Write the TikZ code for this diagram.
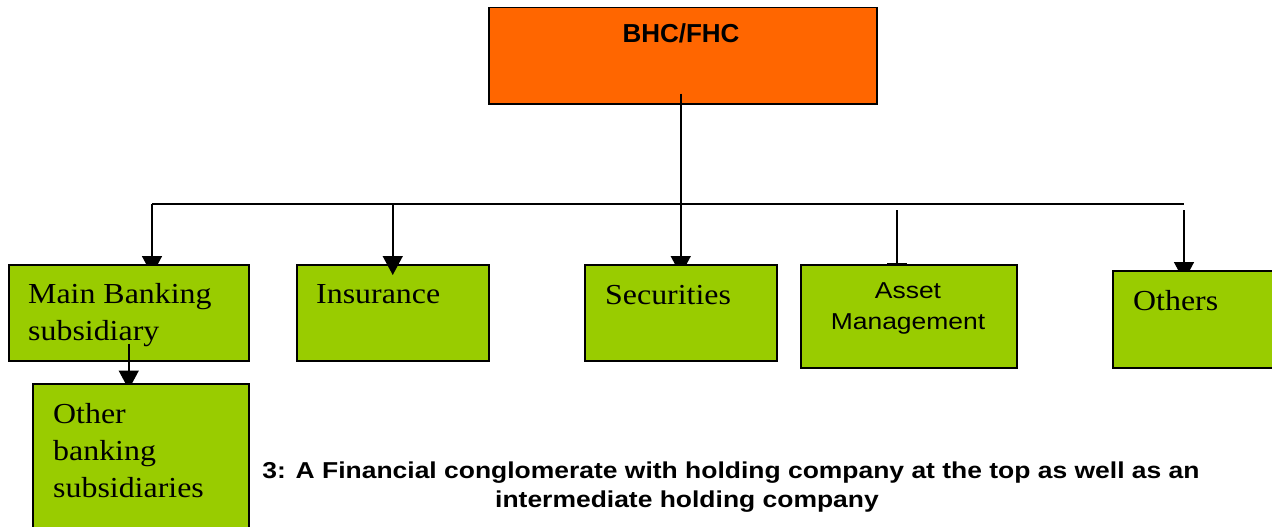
\documentclass[tikz,border=0pt]{standalone}
\usepackage{fontspec}
\setmainfont{Liberation Serif}[FakeStretch=1.1]
\newfontfamily\arialfont{Liberation Sans}[FakeStretch=1.15]
\newfontfamily\headfont{Liberation Sans}
\usetikzlibrary{arrows.meta}
\definecolor{leafgreen}{HTML}{99CC00}
\definecolor{hcorange}{HTML}{FF6600}
\pgfdeclarelayer{base}
\pgfdeclarelayer{links}
\pgfdeclarelayer{front}
\pgfsetlayers{base,links,main,front}

\begin{document}
\begin{tikzpicture}
	[
	x = 1pt, y = -1pt,
	box/.style = {draw, line width=1.5pt, fill=leafgreen, anchor=north west, inner sep=0pt},
	txt/.style = {anchor=north west, inner sep=0pt, align=left, font=\fontsize{29}{37}\selectfont},
	capt/.style = {anchor=base, inner sep=0pt, font=\arialfont\bfseries\fontsize{23}{29}\selectfont},
	wire/.style = {line width=1.5pt},
	link/.style = {wire, -{Triangle[width=20pt, length=19pt]}}
	]
	
	\useasboundingbox (0,0) rectangle (1272,527);
	
	\begin{pgfonlayer}{base}
		\node [box, fill=hcorange, minimum width=388pt, minimum height=96pt] (bhc) at (488,7) {};
	\end{pgfonlayer}
	\node [anchor=base, inner sep=0pt, font=\headfont\bfseries\fontsize{26}{30}\selectfont] (bhctxt) at (681,43) {BHC/FHC};
	
	\node [box, minimum width=240pt, minimum height=96pt] (mainbank) at (8,264) {};
	\node [box, minimum width=192pt, minimum height=96pt] (insurance) at (296,264) {};
	\node [box, minimum width=192pt, minimum height=96pt] (securities) at (584,264) {};
	\node [box, minimum width=216pt, minimum height=103pt] (assetmgmt) at (800,264) {};
	\node [box, minimum width=170pt, minimum height=97pt] (others) at (1112,270) {};
	
	\node [txt] (mainbanktxt) at (28,283) {Main Banking\\subsidiary};
	\node [txt] (insurancetxt) at (316,284) {Insurance};
	\node [txt] (securitiestxt) at (605,285) {Securities};
	\node [txt] (otherstxt) at (1133,290) {Others};
	\node [txt, anchor=north, align=center, font=\arialfont\fontsize{23}{31}\selectfont] (assetmgmttxt) at (908,282) {Asset\\Management};
	
	\begin{pgfonlayer}{front}
		\node [box, minimum width=216pt, minimum height=150pt] (otherbank) at (32,383) {};
		\node [txt] (otherbanktxt) at (53,403) {Other\\banking\\subsidiaries};
	\end{pgfonlayer}
	
	\coordinate (busL) at (152,204);
	\coordinate (busR) at (1184,204);
	\begin{pgfonlayer}{links}
		\draw [wire] (busL) -- (busR);
		\draw [link] (busL) -- ([yshift=-11pt]busL |- mainbank.north);
		\draw [link] ([yshift=11pt]securities.north |- bhc.south) -- ([yshift=-11pt]securities.north);
		\draw [link] ([yshift=-6pt]busR) -- ([yshift=-11pt]busR |- others.north);
		\draw [wire, -{Bar[width=20pt]}] ([shift={(-12pt,-6pt)}]assetmgmt.north |- busR) -- ([xshift=-12pt]assetmgmt.north);
	\end{pgfonlayer}
	\draw [link] (insurance.north |- busL) -- ([yshift=-11pt]insurance.north);
	\draw [link] ([yshift=18pt]mainbank.south) -- ([yshift=-28pt]mainbank.south);
	
	\node [capt] (caption1) at (731,478) {3: A Financial conglomerate with holding company at the top as well as an};
	\node [capt] (caption2) at (687,507) {intermediate holding company};
	
\end{tikzpicture}
\end{document}
